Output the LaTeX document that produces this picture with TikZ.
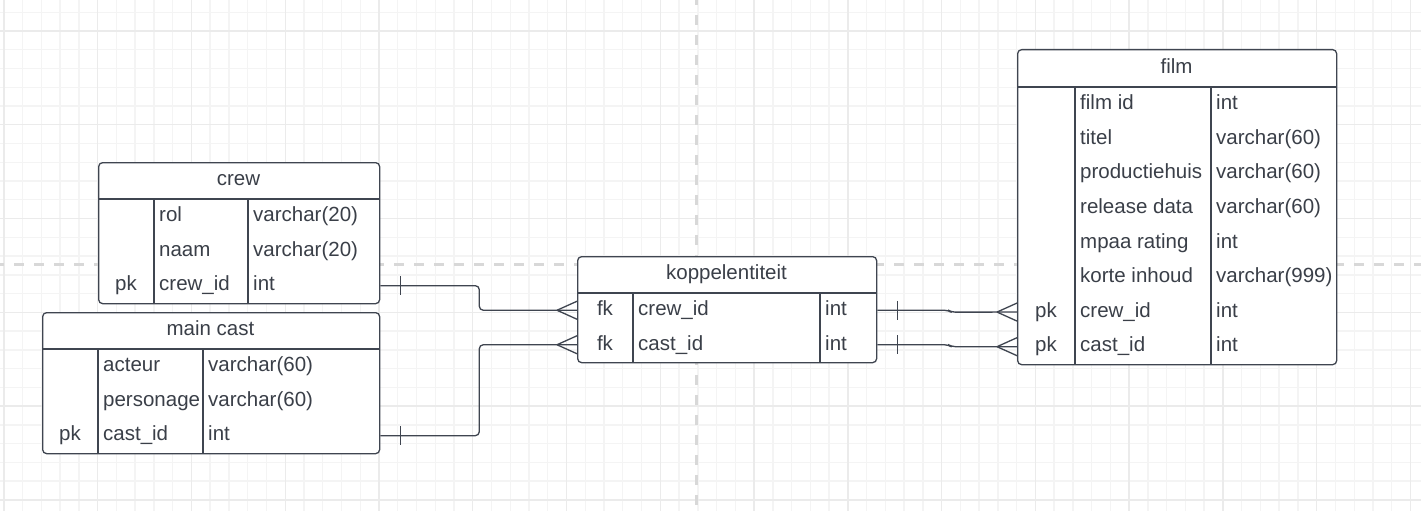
\documentclass[tikz,border=0pt]{standalone}
\usepackage{fontspec}
\setmainfont{Liberation Sans}
\usetikzlibrary{positioning}
\definecolor{ink}{HTML}{3F4550}
\definecolor{txt}{HTML}{3A3F48}
\definecolor{gridminor}{HTML}{F4F4F4}
\definecolor{gridmajor}{HTML}{EBEBEB}
\definecolor{guidegray}{HTML}{D8D8D8}
\tikzset{
  tbl/.style={draw=ink, line width=1.3pt, rounded corners=4pt, fill=white, anchor=north west, inner sep=0pt},
  tblline/.style={draw=ink, line width=1.3pt},
  cell/.style={anchor=west, inner sep=0pt, text=txt, font=\fontsize{20.5}{24}\selectfont, text height=14.5pt, text depth=4pt},
  rel/.style={draw=ink, line width=1.3pt, rounded corners=4pt},
  crow/.pic={\draw[rel] (-20,0) -- (0,9) (-20,0) -- (0,-9);},
  onebar/.pic={\draw[rel] (20,-9.5) -- (20,9.5);},
  guideline/.style={guidegray, line width=3pt, dash pattern=on 10pt off 10pt}
}
\begin{document}
\begin{tikzpicture}[x=1pt, y=-1pt]
\useasboundingbox (0,0) rectangle (1421,511);
\fill[white] (0,0) rectangle (1421,511);
\foreach \i in {0,...,75} \draw[gridminor, line width=1.4pt] (3.9+18.754*\i,0) -- ++(0,511);
\foreach \i in {0,...,27} \draw[gridminor, line width=1.4pt] (0,12.25+18.754*\i) -- ++(1421,0);
\foreach \i in {0,...,15} \draw[gridmajor, line width=1.4pt] (3.9+93.77*\i,0) -- ++(0,511);
\foreach \i in {0,...,5} \draw[gridmajor, line width=1.4pt] (0,31+93.77*\i) -- ++(1421,0);
\draw[guideline, dash phase=5pt] (696.7,0) -- (696.7,511);
\draw[guideline, dash phase=6pt] (0,264.5) -- (1421,264.5);

\node[tbl, minimum width=281pt, minimum height=141pt] (crew) at (98,162) {};
\draw[tblline] (98,199) -- (379,199) (154,199) -- (154,303) (248,199) -- (248,303);
\node[cell, anchor=center] (crew-title) at (238.5,180.5) {crew};
\foreach \k/\f/\t [count=\i] in {/rol/varchar(20), /naam/varchar(20), pk/crew\_id/int} {
  \node[cell, anchor=center] (crew-k\i) at (126,181.67+34.67*\i) {\k};
  \node[cell] (crew-f\i) at (159,181.67+34.67*\i) {\f};
  \node[cell] (crew-t\i) at (253,181.67+34.67*\i) {\t};
}

\node[tbl, minimum width=337pt, minimum height=141pt] (maincast) at (42,312) {};
\draw[tblline] (42,349) -- (379,349) (98,349) -- (98,453) (203,349) -- (203,453);
\node[cell, anchor=center] (maincast-title) at (210.5,330.5) {main cast};
\foreach \k/\f/\t [count=\i] in {/acteur/varchar(60), /personage/varchar(60), pk/cast\_id/int} {
  \node[cell, anchor=center] (maincast-k\i) at (70,331.67+34.67*\i) {\k};
  \node[cell] (maincast-f\i) at (103,331.67+34.67*\i) {\f};
  \node[cell] (maincast-t\i) at (208,331.67+34.67*\i) {\t};
}

\node[tbl, minimum width=299pt, minimum height=106pt] (koppel) at (577,256) {};
\draw[tblline] (577,293) -- (876,293) (633,293) -- (633,362) (820,293) -- (820,362);
\node[cell, anchor=center] (koppel-title) at (726.5,274.5) {koppelentiteit};
\foreach \k/\f/\t [count=\i] in {fk/crew\_id/int, fk/cast\_id/int} {
  \node[cell, anchor=center] (koppel-k\i) at (605,275.75+34.5*\i) {\k};
  \node[cell] (koppel-f\i) at (638,275.75+34.5*\i) {\f};
  \node[cell] (koppel-t\i) at (825,275.75+34.5*\i) {\t};
}

\node[tbl, minimum width=319pt, minimum height=315pt] (film) at (1017,49) {};
\draw[tblline] (1017,87) -- (1336,87) (1075,87) -- (1075,364) (1211,87) -- (1211,364);
\node[cell, anchor=center] (film-title) at (1176.5,68) {film};
\foreach \k/\f/\t [count=\i] in {/film id/int, /titel/varchar(60), /productiehuis/varchar(60), /release data/varchar(60), /mpaa rating/int, /korte inhoud/varchar(999), pk/crew\_id/int, pk/cast\_id/int} {
  \node[cell, anchor=center] (film-k\i) at (1046,69.69+34.625*\i) {\k};
  \node[cell] (film-f\i) at (1080,69.69+34.625*\i) {\f};
  \node[cell] (film-t\i) at (1216,69.69+34.625*\i) {\t};
}

\draw[rel] (crew.east |- crew-f3) -- ++(99,0) |- (koppel.west |- koppel-f1);
\draw[rel] (maincast.east |- maincast-f3) -- ++(99,0) |- (koppel.west |- koppel-f2);
\draw[rel] (koppel.east |- koppel-f1) -- ++(71,0) -- ++(3,1.9) -- (film.west |- film-f7);
\draw[rel] (koppel.east |- koppel-f2) -- ++(71,0) -- ++(3,1.9) -- (film.west |- film-f8);
\pic at (crew.east |- crew-f3) {onebar};
\pic at (maincast.east |- maincast-f3) {onebar};
\pic at (koppel.east |- koppel-f1) {onebar};
\pic at (koppel.east |- koppel-f2) {onebar};
\pic at (koppel.west |- koppel-f1) {crow};
\pic at (koppel.west |- koppel-f2) {crow};
\pic at (film.west |- film-f7) {crow};
\pic at (film.west |- film-f8) {crow};
\end{tikzpicture}
\end{document}
